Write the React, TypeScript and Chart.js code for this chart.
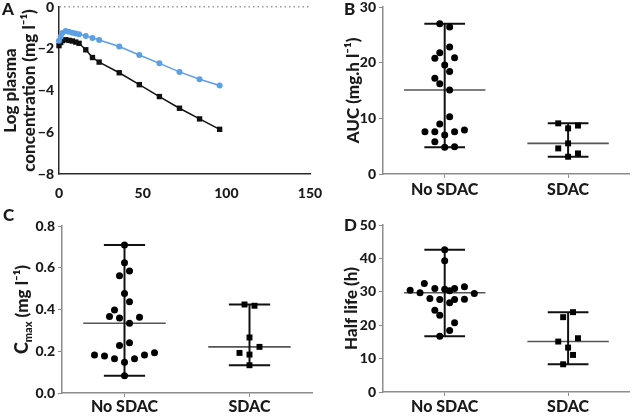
import React, { useEffect, useRef } from "react";
import { Chart, registerables } from "chart.js";

Chart.register(...registerables);

// ---------------- data ----------------
// Panel A: log plasma concentration vs time (h)
const timeH = [0, 1, 2, 4, 6, 8, 10, 12, 16, 20, 24, 36, 48, 60, 72, 84, 96];
const logConcNoSdac = [-1.62, -1.42, -1.24, -1.15, -1.19, -1.23, -1.27, -1.31, -1.39, -1.48, -1.58, -1.89, -2.3, -2.7, -3.11, -3.46, -3.76];
const logConcSdac = [-1.85, -1.7, -1.61, -1.57, -1.6, -1.63, -1.68, -1.74, -2.05, -2.42, -2.64, -3.15, -3.72, -4.29, -4.85, -5.36, -5.86];
const timeTicks = [0, 50, 100, 150];
const logTicks = [-8, -6, -4, -2, 0];

const groupLabels = ["No SDAC", "SDAC"];

// Panel B: AUC
const aucNoSdac = [27.0, 26.4, 22.8, 21.8, 20.8, 20.9, 19.6, 18.4, 17.2, 16.2, 15.1, 10.3, 9.0, 7.6, 7.6, 7.0, 7.6, 7.9, 5.8, 4.8, 4.9];
const aucNoSdacJitter = [-0.04, 0.04, 0.04, -0.04, -0.08, 0.08, 0, 0.04, -0.08, -0.04, 0.04, 0.04, -0.04, -0.16, -0.08, 0, 0.08, 0.16, -0.08, 0, 0.08];
const aucSdac = [9.1, 8.2, 8.7, 5.5, 4.6, 3.7, 3.1];
const aucSdacJitter = [-0.08, 0, 0.08, 0, -0.08, 0.08, 0];
const aucMedian = [15.1, 5.5];
const aucMin = [4.8, 3.1];
const aucMax = [27.0, 9.1];
const aucTicks = [0, 10, 20, 30];

// Panel C: Cmax
const cmaxNoSdac = [0.709, 0.624, 0.562, 0.584, 0.477, 0.437, 0.398, 0.366, 0.359, 0.363, 0.334, 0.228, 0.241, 0.182, 0.177, 0.164, 0.147, 0.164, 0.182, 0.193, 0.083];
const cmaxNoSdacJitter = [0, 0, -0.04, 0.04, 0, 0.04, -0.08, -0.12, -0.04, 0.12, 0.04, -0.04, 0.04, -0.24, -0.16, -0.08, 0, 0.08, 0.16, 0.24, 0];
const cmaxSdac = [0.424, 0.418, 0.266, 0.221, 0.192, 0.184, 0.133];
const cmaxSdacJitter = [-0.04, 0.04, 0, 0.08, -0.08, 0, 0];
const cmaxMedian = [0.334, 0.221];
const cmaxMin = [0.083, 0.133];
const cmaxMax = [0.709, 0.424];
const cmaxTicks = [0, 0.2, 0.4, 0.6, 0.8];

// Panel D: half life (h)
const halfLifeNoSdac = [42.6, 39.3, 32.5, 30.5, 29.7, 31.0, 30.8, 30.3, 31.0, 31.5, 29.5, 28.0, 27.7, 26.7, 27.7, 27.8, 24.5, 23.0, 20.7, 18.4, 16.7];
const halfLifeNoSdacJitter = [0, 0, -0.165, -0.28, -0.2, -0.08, 0, 0.04, 0.08, 0.16, 0.24, -0.12, -0.04, 0.04, 0.08, 0.16, -0.08, -0.04, 0.08, 0.04, -0.04];
const halfLifeSdac = [23.9, 22.4, 15.1, 16.1, 13.3, 11.1, 8.3];
const halfLifeSdacJitter = [0.04, -0.04, -0.08, 0.08, 0, 0.04, -0.04];
const halfLifeMedian = [29.7, 15.1];
const halfLifeMin = [16.7, 8.3];
const halfLifeMax = [42.6, 23.9];
const halfLifeTicks = [0, 10, 20, 30, 40, 50];

const titleA = ["Log plasma", "concentration (mg l\u207B\u00B9)"];
const titleB = "AUC (mg.h l\u207B\u00B9)";
const titleCParts = ["C", "max", " (mg l\u207B\u00B9)"];
const titleD = "Half life (h)";

// ---------------- styles ----------------
const FONT = "Lato, 'DejaVu Sans', sans-serif";
const WEIGHT = 900;
const INK = "#1a1a1a";
const GRAY_AXIS = "#8c8c8c";
const BLUE = "#5b9fe4";
const CAP = 0.165;
const MED = 0.33;

type Pt = { x: number; y: number };

function segment(data: Pt[], color: string, width: number) {
  return {
    data,
    showLine: true,
    borderColor: color,
    borderWidth: width,
    pointRadius: 0,
    pointHoverRadius: 0,
    clip: false,
    fill: false,
  };
}

function pointsFor(values: number[], jitter: number[], group: number, style: string, radius: number) {
  return {
    data: values.map((v, i) => ({ x: group + jitter[i], y: v })),
    showLine: false,
    pointStyle: style,
    pointRadius: radius,
    pointHoverRadius: radius,
    pointBackgroundColor: "#000",
    pointBorderColor: "#000",
    pointBorderWidth: 0,
    clip: false,
  };
}

function summary(median: number[], min: number[], max: number[]) {
  const out: any[] = [];
  median.forEach((m, g) => {
    const c = g + 1;
    out.push(segment([{ x: c, y: min[g] }, { x: c, y: max[g] }], "#111", 2));
    out.push(segment([{ x: c - CAP, y: max[g] }, { x: c + CAP, y: max[g] }], "#111", 2));
    out.push(segment([{ x: c - CAP, y: min[g] }, { x: c + CAP, y: min[g] }], "#111", 2));
    out.push(segment([{ x: c - MED, y: m }, { x: c + MED, y: m }], "#555", 1.6));
  });
  return out;
}

function letterPlugin(letter: string, x: number, y: number) {
  return {
    id: "panelLetter",
    afterDraw(chart: any) {
      const ctx = chart.ctx;
      ctx.save();
      ctx.font = `${WEIGHT} 17px ${FONT}`;
      ctx.fillStyle = INK;
      ctx.textAlign = "left";
      ctx.textBaseline = "middle";
      ctx.fillText(letter, x, y);
      ctx.restore();
    },
  };
}

const cmaxTitlePlugin = {
  id: "cmaxTitle",
  afterDraw(chart: any) {
    const { ctx, chartArea } = chart;
    const sizes = [18, 11, 17];
    const dys = [0, 4, 0];
    ctx.save();
    const widths = titleCParts.map((t, i) => {
      ctx.font = `${WEIGHT} ${sizes[i]}px ${FONT}`;
      return ctx.measureText(t).width;
    });
    const total = widths.reduce((a, b) => a + b, 0);
    ctx.translate(28, (chartArea.top + chartArea.bottom) / 2);
    ctx.rotate(-Math.PI / 2);
    ctx.fillStyle = INK;
    ctx.textAlign = "left";
    ctx.textBaseline = "alphabetic";
    let x = -total / 2;
    titleCParts.forEach((t, i) => {
      ctx.font = `${WEIGHT} ${sizes[i]}px ${FONT}`;
      ctx.fillText(t, x, dys[i]);
      x += widths[i];
    });
    ctx.restore();
  },
};

const tickFont = { family: FONT, size: 14, weight: WEIGHT as any };

interface GroupPanel {
  noSdac: number[];
  noSdacJit: number[];
  sdac: number[];
  sdacJit: number[];
  median: number[];
  min: number[];
  max: number[];
  ticks: number[];
  decimals: number;
  title?: string;
  titlePad: number;
  padTop: number;
  padRight: number;
  xHeight: number;
  yWidth: number;
  xLabelPad: number;
  letter: string;
  letterX: number;
  letterY: number;
  extra?: any[];
}

function groupConfig(p: GroupPanel): any {
  return {
    type: "scatter",
    data: {
      datasets: [
        pointsFor(p.noSdac, p.noSdacJit, 1, "circle", 3.5),
        pointsFor(p.sdac, p.sdacJit, 2, "rect", 4.2),
        ...summary(p.median, p.min, p.max),
      ],
    },
    options: {
      animation: false,
      responsive: false,
      devicePixelRatio: 1,
      events: [],
      layout: { padding: { top: p.padTop, right: p.padRight, left: 0, bottom: 0 } },
      plugins: { legend: { display: false }, tooltip: { enabled: false } },
      scales: {
        x: {
          type: "linear",
          min: 0.5,
          max: 2.5,
          afterBuildTicks: (s: any) => {
            s.ticks = groupLabels.map((_, i) => ({ value: i + 1 }));
          },
          afterFit: (s: any) => {
            s.height = p.xHeight;
            s.paddingLeft = 0;
            s.paddingRight = 0;
          },
          ticks: {
            autoSkip: false,
            maxRotation: 0,
            padding: p.xLabelPad,
            color: INK,
            font: { family: FONT, size: 16, weight: WEIGHT },
            callback: (_v: any, i: number) => groupLabels[i],
          },
          grid: { drawOnChartArea: false, drawTicks: true, tickLength: 4, color: GRAY_AXIS, lineWidth: 1 },
          border: { display: true, color: GRAY_AXIS, width: 1.5 },
        },
        y: {
          type: "linear",
          min: Math.min(...p.ticks),
          max: Math.max(...p.ticks),
          afterBuildTicks: (s: any) => {
            s.ticks = p.ticks.map((v) => ({ value: v }));
          },
          afterFit: (s: any) => {
            s.width = p.yWidth;
            s.paddingTop = 0;
            s.paddingBottom = 0;
          },
          ticks: {
            padding: 3,
            color: INK,
            font: tickFont,
            callback: (v: any) => Number(v).toFixed(p.decimals),
          },
          grid: { drawOnChartArea: false, drawTicks: true, tickLength: 4, color: GRAY_AXIS, lineWidth: 1 },
          border: { display: true, color: GRAY_AXIS, width: 1.5 },
          title: p.title
            ? {
                display: true,
                text: p.title,
                color: INK,
                font: { family: FONT, size: 17, weight: WEIGHT, lineHeight: 1.2 },
                padding: { top: p.titlePad, bottom: 0 },
              }
            : { display: false },
        },
      },
    },
    plugins: [letterPlugin(p.letter, p.letterX, p.letterY), ...(p.extra || [])],
  };
}

const configA: any = {
  type: "scatter",
  data: {
    datasets: [
      {
        data: timeH.map((t, i) => ({ x: t, y: logConcNoSdac[i] })),
        showLine: true,
        borderColor: BLUE,
        borderWidth: 1.5,
        pointStyle: "circle",
        pointRadius: 3,
        pointBackgroundColor: BLUE,
        pointBorderColor: BLUE,
        pointBorderWidth: 0,
        clip: false,
      },
      {
        data: timeH.map((t, i) => ({ x: t, y: logConcSdac[i] })),
        showLine: true,
        borderColor: "#111",
        borderWidth: 1.5,
        pointStyle: "rect",
        pointRadius: 3.8,
        pointBackgroundColor: "#111",
        pointBorderColor: "#111",
        pointBorderWidth: 0,
        clip: false,
      },
    ],
  },
  options: {
    animation: false,
    responsive: false,
    devicePixelRatio: 1,
    events: [],
    layout: { padding: { top: 7, right: 20, left: 0, bottom: 0 } },
    plugins: { legend: { display: false }, tooltip: { enabled: false } },
    scales: {
      x: {
        type: "linear",
        min: Math.min(...timeTicks),
        max: Math.max(...timeTicks),
        afterBuildTicks: (s: any) => {
          s.ticks = timeTicks.map((v) => ({ value: v }));
        },
        afterFit: (s: any) => {
          s.height = 26;
          s.paddingLeft = 0;
          s.paddingRight = 0;
        },
        ticks: { padding: 3, color: INK, font: tickFont, maxRotation: 0, autoSkip: false },
        grid: { display: false },
        border: { display: true, color: "#2a2a2a", width: 1.5 },
      },
      y: {
        type: "linear",
        min: Math.min(...logTicks),
        max: Math.max(...logTicks),
        afterBuildTicks: (s: any) => {
          s.ticks = logTicks.map((v) => ({ value: v }));
        },
        afterFit: (s: any) => {
          s.width = 59;
          s.paddingTop = 0;
          s.paddingBottom = 0;
        },
        ticks: {
          padding: 5,
          color: INK,
          font: tickFont,
          callback: (v: any) => (Number(v) < 0 ? "\u2212" + Math.abs(Number(v)) : String(v)),
        },
        grid: {
          display: true,
          drawOnChartArea: true,
          drawTicks: false,
          lineWidth: 1.5,
          color: (ctx: any) => (ctx.tick && ctx.tick.value === 0 ? "#9a9a9a" : "rgba(0,0,0,0)"),
        },
        border: { display: true, color: "#2a2a2a", width: 1.5, dash: [1.5, 3] },
        title: {
          display: true,
          text: titleA,
          color: INK,
          font: { family: FONT, size: 17, weight: WEIGHT, lineHeight: 1.1 },
          padding: { top: 1, bottom: 0 },
        },
      },
    },
  },
  plugins: [letterPlugin("A", 2, 10)],
};

const configB = groupConfig({
  noSdac: aucNoSdac,
  noSdacJit: aucNoSdacJitter,
  sdac: aucSdac,
  sdacJit: aucSdacJitter,
  median: aucMedian,
  min: aucMin,
  max: aucMax,
  ticks: aucTicks,
  decimals: 0,
  title: titleB,
  titlePad: 23,
  padTop: 7,
  padRight: 1,
  xHeight: 26,
  yWidth: 63,
  xLabelPad: 2,
  letter: "B",
  letterX: 24,
  letterY: 10,
});

const configC = groupConfig({
  noSdac: cmaxNoSdac,
  noSdacJit: cmaxNoSdacJitter,
  sdac: cmaxSdac,
  sdacJit: cmaxSdacJitter,
  median: cmaxMedian,
  min: cmaxMin,
  max: cmaxMax,
  ticks: cmaxTicks,
  decimals: 1,
  titlePad: 0,
  padTop: 26,
  padRight: 8,
  xHeight: 23,
  yWidth: 62,
  xLabelPad: 0,
  letter: "C",
  letterX: 3,
  letterY: 16,
  extra: [cmaxTitlePlugin],
});

const configD = groupConfig({
  noSdac: halfLifeNoSdac,
  noSdacJit: halfLifeNoSdacJitter,
  sdac: halfLifeSdac,
  sdacJit: halfLifeSdacJitter,
  median: halfLifeMedian,
  min: halfLifeMin,
  max: halfLifeMax,
  ticks: halfLifeTicks,
  decimals: 0,
  title: titleD,
  titlePad: 21,
  padTop: 25,
  padRight: 1,
  xHeight: 24,
  yWidth: 63,
  xLabelPad: 1,
  letter: "D",
  letterX: 24,
  letterY: 26,
});

export default function App() {
  const refA = useRef<HTMLCanvasElement>(null);
  const refB = useRef<HTMLCanvasElement>(null);
  const refC = useRef<HTMLCanvasElement>(null);
  const refD = useRef<HTMLCanvasElement>(null);

  useEffect(() => {
    const charts = [
      new Chart(refA.current as HTMLCanvasElement, configA),
      new Chart(refB.current as HTMLCanvasElement, configB),
      new Chart(refC.current as HTMLCanvasElement, configC),
      new Chart(refD.current as HTMLCanvasElement, configD),
    ];
    return () => charts.forEach((c) => c.destroy());
  }, []);

  const abs = (left: number, top: number): React.CSSProperties => ({ position: "absolute", left, top });

  return (
    <div
      style={{
        position: "fixed",
        left: 0,
        top: 0,
        width: 634,
        height: 416,
        background: "#ffffff",
        overflow: "hidden",
      }}
    >
      <canvas ref={refA} width={330} height={200} style={abs(0, 0)} />
      <canvas ref={refB} width={314} height={200} style={abs(320, 0)} />
      <canvas ref={refC} width={320} height={216} style={abs(0, 200)} />
      <canvas ref={refD} width={314} height={216} style={abs(320, 200)} />
    </div>
  );
}
